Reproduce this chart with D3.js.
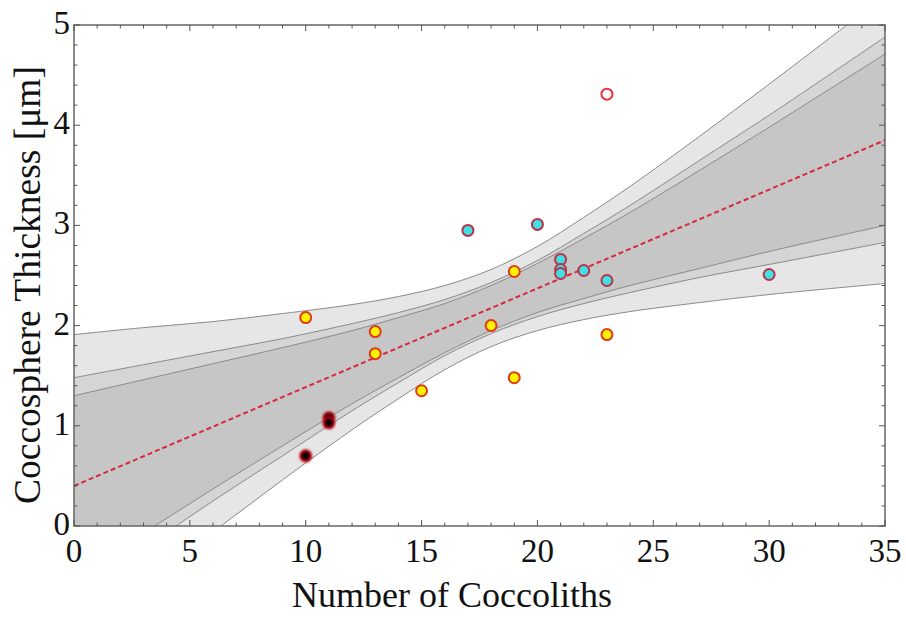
<!DOCTYPE html>
<html>
<head>
<meta charset="utf-8">
<script src="https://cdn.jsdelivr.net/npm/d3@7"></script>
<style>
  body { margin: 0; background: #fff; }
  svg text { font-family: "Liberation Serif", "DejaVu Serif", serif; fill: #111; }
</style>
</head>
<body>
<svg id="chart" width="906" height="617"></svg>
<script>
// ----- DATA -----

// band edges, read at these x positions
var bandX      = [0, 3, 6, 9, 12, 14, 16, 18, 20, 22, 24, 27, 30, 35];
var outerUpper = [1.91, 1.98, 2.04, 2.12, 2.21, 2.29, 2.40, 2.56, 2.79, 3.08, 3.39, 3.89, 4.41, 5.29];
var medUpper   = [1.48, 1.61, 1.74, 1.87, 2.02, 2.13, 2.26, 2.43, 2.65, 2.92, 3.20, 3.65, 4.10, 4.88];
var darkUpper  = [1.30, 1.46, 1.62, 1.78, 1.95, 2.08, 2.22, 2.40, 2.62, 2.87, 3.13, 3.55, 3.98, 4.71];
var darkLower  = [-0.50, -0.07, 0.37, 0.80, 1.22, 1.48, 1.73, 1.95, 2.13, 2.27, 2.40, 2.57, 2.74, 3.00];
var medLower   = [-0.68, -0.22, 0.25, 0.70, 1.15, 1.43, 1.70, 1.92, 2.09, 2.22, 2.33, 2.48, 2.61, 2.83];
var outerLower = [-1.11, -0.58, -0.06, 0.46, 0.96, 1.27, 1.56, 1.79, 1.95, 2.06, 2.14, 2.23, 2.31, 2.42];

// fitted line end points
var fitX = [0, 35];
var fitY = [0.40, 3.85];

// measurements
var yellowX = [10, 13, 13, 15, 18, 19, 19, 23];
var yellowY = [2.08, 1.94, 1.72, 1.35, 2.00, 2.54, 1.48, 1.91];
var cyanX = [17, 20, 21, 21, 21, 22, 23, 30];
var cyanY = [2.95, 3.01, 2.66, 2.56, 2.52, 2.55, 2.45, 2.51];
var openX = [23];
var openY = [4.31];
var blackX = [10, 11, 11];
var blackY = [0.70, 1.08, 1.03];

var xTicks = [0, 5, 10, 15, 20, 25, 30, 35];
var yTicks = [0, 1, 2, 3, 4, 5];

// ----- LAYOUT -----

var svg = d3.select("#chart");
var pLeft = 74, pRight = 885, pTop = 25, pBottom = 526;

var x = d3.scaleLinear().domain([0, 35]).range([pLeft, pRight]);
var y = d3.scaleLinear().domain([0, 5]).range([pBottom, pTop]);

var defs = svg.append("defs");
defs.append("clipPath").attr("id", "plotclip")
    .append("rect")
    .attr("x", pLeft).attr("y", pTop)
    .attr("width", pRight - pLeft).attr("height", pBottom - pTop);

var blur = defs.append("filter").attr("id", "soft")
    .attr("x", "-50%").attr("y", "-50%").attr("width", "200%").attr("height", "200%");
blur.append("feGaussianBlur").attr("stdDeviation", 0.9);

var plot = svg.append("g").attr("clip-path", "url(#plotclip)");

// ----- BANDS -----

function band(upper, lower, fill) {
    var rows = bandX.map(function(v, i) { return {x: v, hi: upper[i], lo: lower[i]}; });
    var area = d3.area()
        .curve(d3.curveCatmullRom)
        .x(function(d) { return x(d.x); })
        .y0(function(d) { return y(d.lo); })
        .y1(function(d) { return y(d.hi); });
    plot.append("path")
        .datum(rows)
        .attr("d", area)
        .style("fill", fill);
}

function edge(vals) {
    var line = d3.line()
        .curve(d3.curveCatmullRom)
        .x(function(d) { return x(d[0]); })
        .y(function(d) { return y(d[1]); });
    plot.append("path")
        .datum(bandX.map(function(v, i) { return [v, vals[i]]; }))
        .attr("d", line)
        .style("fill", "none")
        .attr("stroke", "#8a8a8a")
        .attr("stroke-width", 1);
}

band(outerUpper, outerLower, "#e6e6e6");
band(medUpper, medLower, "#d5d5d5");
band(darkUpper, darkLower, "#c6c6c6");
[outerUpper, medUpper, darkUpper, darkLower, medLower, outerLower].forEach(edge);

// fitted line
plot.append("line")
    .attr("x1", x(fitX[0])).attr("y1", y(fitY[0]))
    .attr("x2", x(fitX[1])).attr("y2", y(fitY[1]))
    .attr("stroke", "#d8283e")
    .attr("stroke-width", 2)
    .attr("stroke-dasharray", "5,3");

// ----- POINTS -----

function dots(xs, ys, fill, stroke, soft) {
    var g = plot.append("g");
    if (soft) g.attr("filter", "url(#soft)");
    g.selectAll("circle")
        .data(xs.map(function(v, i) { return [v, ys[i]]; }))
        .enter().append("circle")
        .attr("cx", function(d) { return x(d[0]); })
        .attr("cy", function(d) { return y(d[1]); })
        .attr("r", 5.5)
        .style("fill", fill)
        .attr("stroke", stroke)
        .attr("stroke-width", 2);
}

dots(yellowX, yellowY, "#fff200", "#dc3b1c", false);
dots(cyanX, cyanY, "#3fe0e6", "#b9334a", false);
dots(openX, openY, "#ffffff", "#e8343c", false);
dots(blackX, blackY, "#000000", "#c00010", true);

// ----- FRAME & TICKS -----

var frame = svg.append("g");
frame.append("rect")
    .attr("x", pLeft).attr("y", pTop)
    .attr("width", pRight - pLeft).attr("height", pBottom - pTop)
    .style("fill", "none")
    .attr("stroke", "#666")
    .attr("stroke-width", 1.5);

// x ticks: every 1 minor, every 5 major, on bottom and top
d3.range(0, 36, 1).forEach(function(v) {
    var len = (v % 5 === 0) ? 6 : 3.5;
    frame.append("line").attr("x1", x(v)).attr("x2", x(v))
        .attr("y1", pBottom).attr("y2", pBottom - len)
        .attr("stroke", "#555").attr("stroke-width", 1);
    frame.append("line").attr("x1", x(v)).attr("x2", x(v))
        .attr("y1", pTop).attr("y2", pTop + len)
        .attr("stroke", "#555").attr("stroke-width", 1);
});

// y ticks: every 0.2 minor, every 1 major, on left and right
d3.range(0, 26, 1).forEach(function(k) {
    var v = k / 5;
    var len = (k % 5 === 0) ? 6 : 3.5;
    frame.append("line").attr("y1", y(v)).attr("y2", y(v))
        .attr("x1", pLeft).attr("x2", pLeft + len)
        .attr("stroke", "#555").attr("stroke-width", 1);
    frame.append("line").attr("y1", y(v)).attr("y2", y(v))
        .attr("x1", pRight).attr("x2", pRight - len)
        .attr("stroke", "#555").attr("stroke-width", 1);
});

svg.append("g").selectAll("text")
    .data(xTicks)
    .enter().append("text")
    .attr("x", function(d) { return x(d); })
    .attr("y", 562)
    .attr("text-anchor", "middle")
    .style("font-size", "33px")
    .text(function(d) { return d; });

svg.append("g").selectAll("text")
    .data(yTicks)
    .enter().append("text")
    .attr("x", 70)
    .attr("y", function(d) { return y(d) + 9; })
    .attr("text-anchor", "end")
    .style("font-size", "33px")
    .text(function(d) { return d; });

// axis titles
svg.append("text")
    .attr("x", 452).attr("y", 607)
    .attr("text-anchor", "middle")
    .style("font-size", "36px")
    .text("Number of Coccoliths");

svg.append("text")
    .attr("transform", "translate(40," + 285 + ") rotate(-90)")
    .attr("text-anchor", "middle")
    .style("font-size", "37.5px")
    .text("Coccosphere Thickness [\u03bcm]");
</script>
</body>
</html>
